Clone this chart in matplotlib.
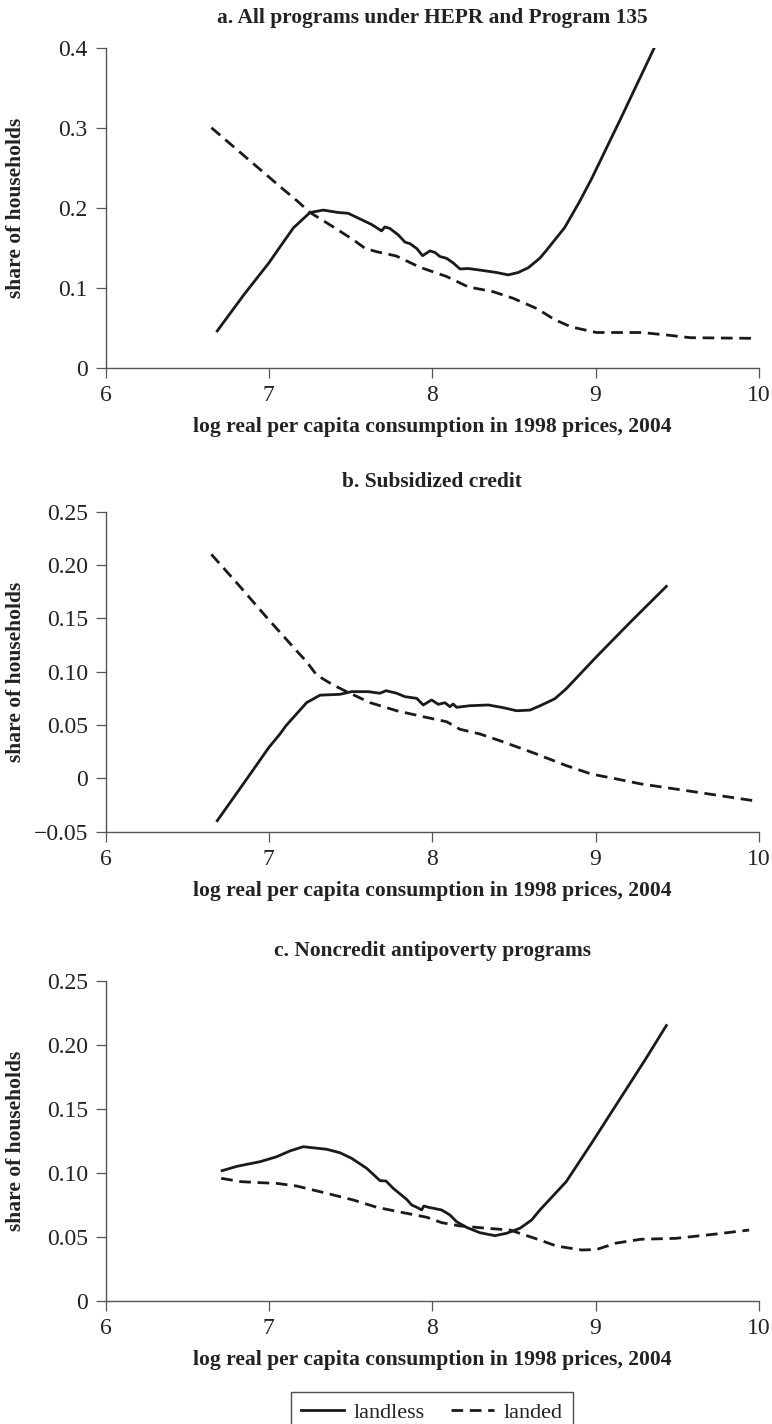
import matplotlib
matplotlib.use("Agg")
import matplotlib.pyplot as plt
from matplotlib.lines import Line2D
from matplotlib.ticker import FixedLocator, FixedFormatter

# ---------------- data ----------------
titles = ["a. All programs under HEPR and Program 135",
          "b. Subsidized credit",
          "c. Noncredit antipoverty programs"]
xlabel = "log real per capita consumption in 1998 prices, 2004"
ylabel = "share of households"
series_names = ["landless", "landed"]

x_ticks = [6, 7, 8, 9, 10]
x_ticklabels = ["6", "7", "8", "9", "10"]

a_yticks = [0, 0.1, 0.2, 0.3, 0.4]
a_yticklabels = ["0", "0.1", "0.2", "0.3", "0.4"]
b_yticks = [-0.05, 0, 0.05, 0.10, 0.15, 0.20, 0.25]
b_yticklabels = ["\u22120.05", "0", "0.05", "0.10", "0.15", "0.20", "0.25"]
c_yticks = [0, 0.05, 0.10, 0.15, 0.20, 0.25]
c_yticklabels = ["0", "0.05", "0.10", "0.15", "0.20", "0.25"]

# panel a
a_landless_x = [6.684, 6.85, 7.0, 7.068, 7.151, 7.252, 7.333, 7.425, 7.486, 7.557, 7.629,
                7.69, 7.71, 7.741, 7.792, 7.833, 7.864, 7.905, 7.941, 7.986, 8.017, 8.047,
                8.088, 8.128, 8.17, 8.22, 8.292, 8.394, 8.465, 8.526, 8.588, 8.659, 8.70,
                8.81, 8.9, 8.975, 9.155, 9.35, 9.43]
a_landless_y = [0.046, 0.092, 0.131, 0.151, 0.175, 0.194, 0.197, 0.194, 0.193, 0.186, 0.179,
                0.171, 0.176, 0.174, 0.166, 0.157, 0.155, 0.149, 0.140, 0.146, 0.144, 0.139,
                0.1367, 0.131, 0.1234, 0.124, 0.122, 0.119, 0.116, 0.119, 0.125, 0.137, 0.147,
                0.175, 0.207, 0.236, 0.312, 0.396, 0.431]
a_landed_x = [6.648, 7.088, 7.167, 7.252, 7.394, 7.516, 7.59, 7.66, 7.78, 7.925, 8.088,
              8.22, 8.373, 8.496, 8.639, 8.75, 8.85, 9.005, 9.19, 9.28, 9.43, 9.58, 9.97]
a_landed_y = [0.300, 0.223, 0.2096, 0.194, 0.176, 0.160, 0.149, 0.145, 0.1396, 0.1255, 0.114,
              0.101, 0.095, 0.0867, 0.074, 0.060, 0.051, 0.044, 0.044, 0.044, 0.041, 0.0375, 0.0367]

# panel b
b_landless_x = [6.684, 6.865, 7.0, 7.068, 7.106, 7.231, 7.313, 7.435, 7.507, 7.608, 7.68,
                7.717, 7.782, 7.833, 7.905, 7.945, 7.996, 8.037, 8.078, 8.108, 8.128, 8.149,
                8.23, 8.343, 8.434, 8.516, 8.598, 8.659, 8.75, 8.82, 9.005, 9.216, 9.433]
b_landless_y = [-0.0397, -0.0005, 0.029, 0.0416, 0.0496, 0.071, 0.078, 0.0788, 0.0813, 0.0813,
                0.0798, 0.0822, 0.0798, 0.0766, 0.075, 0.0688, 0.0735, 0.0694, 0.0709, 0.0672,
                0.0697, 0.0666, 0.0681, 0.0688, 0.0663, 0.0634, 0.064, 0.068, 0.0746, 0.084,
                0.114, 0.147, 0.180]
b_landed_x = [6.648, 6.805, 6.986, 7.167, 7.231, 7.292, 7.394, 7.476, 7.619, 7.782, 7.945,
              8.088, 8.17, 8.292, 8.414, 8.618, 8.82, 8.975, 9.126, 9.277, 9.578, 9.97]
b_landed_y = [0.210, 0.183, 0.151, 0.120, 0.1094, 0.0969, 0.0875, 0.0813, 0.071, 0.0634,
              0.0578, 0.0531, 0.046, 0.0416, 0.0353, 0.024, 0.012, 0.004, -0.0005, -0.0052,
              -0.012, -0.021]

# panel c
c_landless_x = [6.714, 6.805, 6.946, 7.048, 7.129, 7.21, 7.354, 7.435, 7.507, 7.599, 7.68,
                7.717, 7.761, 7.843, 7.874, 7.905, 7.935, 7.949, 7.976, 8.057, 8.108, 8.149,
                8.21, 8.292, 8.384, 8.455, 8.537, 8.608, 8.659, 8.82, 8.975, 9.156, 9.307, 9.433]
c_landless_y = [0.1016, 0.105, 0.1086, 0.1125, 0.117, 0.1203, 0.1183, 0.1156, 0.1112, 0.1034,
                0.0938, 0.0935, 0.0878, 0.0792, 0.0748, 0.073, 0.0709, 0.074, 0.073, 0.0709,
                0.067, 0.0617, 0.0573, 0.0531, 0.0508, 0.0527, 0.0566, 0.063, 0.0709, 0.093,
                0.123, 0.159, 0.189, 0.215]
c_landed_x = [6.708, 6.83, 6.946, 7.045, 7.17, 7.354, 7.516, 7.66, 7.822, 7.966, 8.057,
              8.17, 8.333, 8.476, 8.659, 8.76, 8.915, 9.005, 9.126, 9.277, 9.49, 9.73, 9.94]
c_landed_y = [0.0956, 0.093, 0.0922, 0.0917, 0.0896, 0.0839, 0.0787, 0.073, 0.0688, 0.0652,
              0.061, 0.0584, 0.0566, 0.0552, 0.0474, 0.0427, 0.0396, 0.040, 0.045, 0.048,
              0.0487, 0.052, 0.0552]

panels = [
    (a_landless_x, a_landless_y, a_landed_x, a_landed_y, a_yticks, a_yticklabels, (0, 0.4)),
    (b_landless_x, b_landless_y, b_landed_x, b_landed_y, b_yticks, b_yticklabels, (-0.05, 0.25)),
    (c_landless_x, c_landless_y, c_landed_x, c_landed_y, c_yticks, c_yticklabels, (0, 0.25)),
]

# ---------------- style ----------------
plt.rcParams['font.family'] = ['Liberation Serif', 'DejaVu Serif']
W, H = 772, 1424
fig = plt.figure(figsize=(W / 100, H / 100), dpi=100)

line_color = "#1a1a1a"
spine_color = "#555555"
text_color = "#222222"
dash = (0, (4.2, 2.4))

left_px, right_px = 105.5, 759.0
tops_px = [47.7, 511.7, 980.7]
ax_h_px = 320.0

for i, (lx, ly, dx, dy, yt, ytl, ylim) in enumerate(panels):
    top = tops_px[i]
    ax = fig.add_axes([left_px / W, 1 - (top + ax_h_px) / H,
                       (right_px - left_px) / W, ax_h_px / H])
    ax.plot(lx, ly, color=line_color, lw=2.0, solid_joinstyle='round')
    ax.plot(dx, dy, color=line_color, lw=2.0, linestyle=dash)
    ax.set_xlim(6, 10)
    ax.set_ylim(*ylim)
    ax.xaxis.set_major_locator(FixedLocator(x_ticks))
    ax.xaxis.set_major_formatter(FixedFormatter(x_ticklabels))
    ax.yaxis.set_major_locator(FixedLocator(yt))
    ax.yaxis.set_major_formatter(FixedFormatter(ytl))
    for s in ['top', 'right']:
        ax.spines[s].set_visible(False)
    for s in ['left', 'bottom']:
        ax.spines[s].set_color(spine_color)
        ax.spines[s].set_linewidth(1.0)
    ax.tick_params(axis='both', direction='out', length=7.2, width=0.9,
                   color=spine_color, labelsize=17, labelcolor=text_color)
    ax.tick_params(axis='y', pad=5.5)
    ax.tick_params(axis='x', pad=5.0)
    ax.set_title(titles[i], fontsize=15.4, fontweight='bold', color=text_color,
                 y=1 + 25 / ax_h_px, va='baseline', pad=0)
    ax.set_xlabel(xlabel, fontsize=15.6, fontweight='bold', color=text_color, va='center')
    ax.xaxis.set_label_coords(0.5, -59 / ax_h_px)
    ax.set_ylabel(ylabel, fontsize=15.5, fontweight='bold', color=text_color, va='center')
    ax.yaxis.set_label_coords((16 - left_px) / (right_px - left_px), 0.5)

handles = [Line2D([], [], color=line_color, lw=2.0),
           Line2D([], [], color=line_color, lw=2.0, linestyle=dash)]
leg = fig.legend(handles, series_names, loc='upper center',
                 bbox_to_anchor=(432 / W, 1 - 1392 / H), ncol=2, fontsize=16,
                 frameon=True, fancybox=False, edgecolor='#222222',
                 handlelength=1.9, handletextpad=0.45, columnspacing=1.2,
                 borderpad=0.45, borderaxespad=0)
leg.get_frame().set_linewidth(1.0)
for t in leg.get_texts():
    t.set_color(text_color)

fig.savefig("out.png", dpi=100)
